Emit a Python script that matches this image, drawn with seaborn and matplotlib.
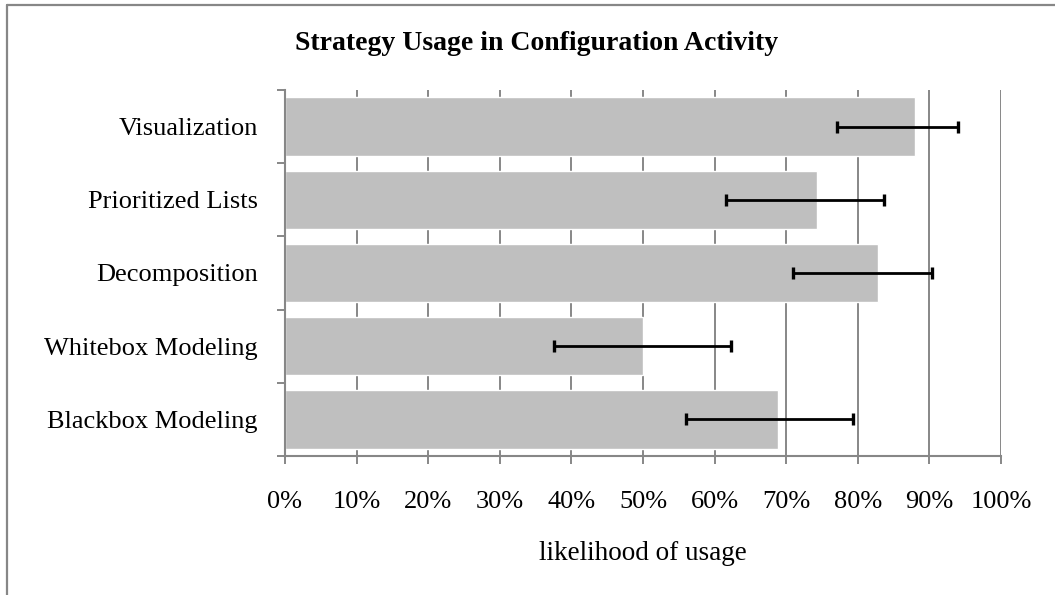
import numpy as np
import pandas as pd
import matplotlib
matplotlib.use("Agg")
import matplotlib.pyplot as plt
from matplotlib.ticker import PercentFormatter, FixedLocator
from matplotlib.lines import Line2D
import seaborn as sns

# ---- data ----
categories = ["Visualization", "Prioritized Lists", "Decomposition",
              "Whitebox Modeling", "Blackbox Modeling"]
likelihood = [0.880, 0.743, 0.828, 0.500, 0.689]
ci_low = [0.771, 0.616, 0.710, 0.375, 0.560]
ci_high = [0.940, 0.837, 0.903, 0.623, 0.793]
x_ticks = [0.0, 0.1, 0.2, 0.3, 0.4, 0.5, 0.6, 0.7, 0.8, 0.9, 1.0]
title = "Strategy Usage in Configuration Activity"
x_label = "likelihood of usage"

sns.set_theme(style="white")
plt.rcParams["font.family"] = ["Liberation Serif", "DejaVu Serif"]

GRAY = "#878787"
BAR = "#BFBFBF"
DPI = 100
W, H = 1055, 595

fig = plt.figure(figsize=(W / DPI, H / DPI), dpi=DPI)
ax = fig.add_axes([285 / W, 1 - 456 / H, (1001 - 285) / W, (456 - 90) / H])

df = pd.DataFrame({"strategy": categories, "likelihood": likelihood})
sns.barplot(data=df, x="likelihood", y="strategy", orient="h", color=BAR,
            saturation=1, width=0.8, ax=ax, zorder=2)

ypos = np.arange(len(categories))
vals = np.array(likelihood)
xerr = np.vstack([vals - np.array(ci_low), np.array(ci_high) - vals])
ax.errorbar(vals, ypos, xerr=xerr, fmt="none", ecolor="black",
            elinewidth=2.0, capsize=4.5, capthick=2.4, zorder=4)

ax.set_xlim(0, 1)
ax.set_ylim(len(categories) - 0.5, -0.5)
ax.set_xticks(x_ticks)
ax.xaxis.set_major_formatter(PercentFormatter(1.0, decimals=0))

# grid
ax.grid(False)
for t in x_ticks[1:]:
    ax.axvline(t, color=GRAY, lw=1.4, zorder=1)

for side in ["top", "right"]:
    ax.spines[side].set_visible(False)
for side in ["left", "bottom"]:
    ax.spines[side].set_color(GRAY)
    ax.spines[side].set_linewidth(1.5)
    ax.spines[side].set_zorder(3)

# y ticks between categories (Excel style)
ax.yaxis.set_minor_locator(FixedLocator(np.arange(-0.5, len(categories), 1.0)))
ax.tick_params(axis="y", which="major", length=0, pad=19.5, labelsize=19,
               labelcolor="black")
ax.tick_params(axis="y", which="minor", length=6, width=1.4, color=GRAY,
               direction="out", left=True)
ax.tick_params(axis="x", which="major", length=6, width=1.4, color=GRAY,
               direction="out", bottom=True, pad=19, labelsize=19,
               labelcolor="black")

ax.set_ylabel("")
ax.set_xlabel(x_label, fontsize=19.5, labelpad=20, color="black")

fig.text(537 / W, 1 - 43 / H, title, ha="center", va="center",
         fontsize=20, fontweight="bold", color="black")

# chart frame (top and left visible)
fig.add_artist(Line2D([7 / W, 1], [1 - 5 / H, 1 - 5 / H], color=GRAY, lw=1.6,
                      transform=fig.transFigure))
fig.add_artist(Line2D([7 / W, 7 / W], [0, 1 - 5 / H], color=GRAY, lw=1.6,
                      transform=fig.transFigure))

fig.savefig("out.png", dpi=DPI)
